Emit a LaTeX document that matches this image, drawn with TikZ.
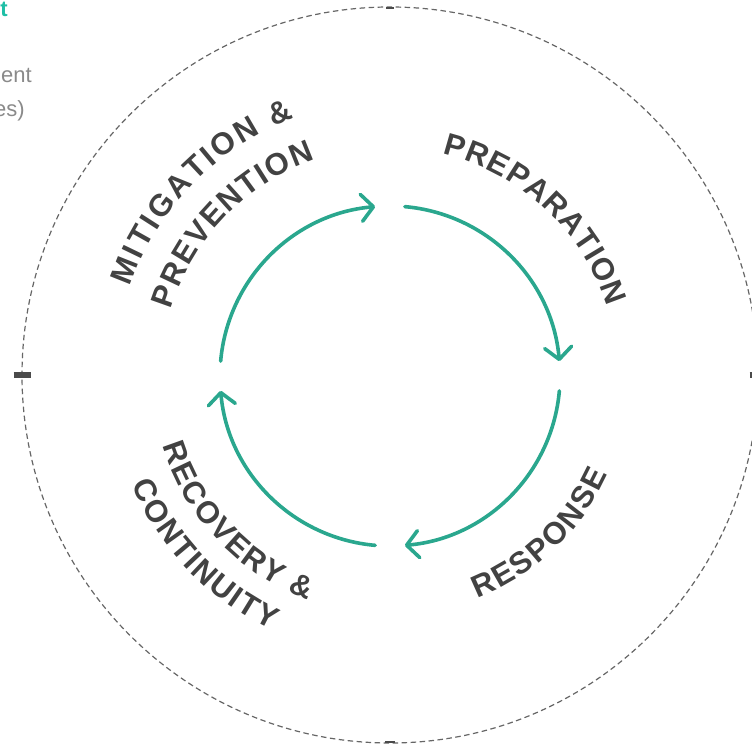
\documentclass[tikz,border=0pt]{standalone}
\usepackage{fontspec}
\setmainfont{Liberation Sans}
\usetikzlibrary{arrows.meta}
\definecolor{cycteal}{HTML}{2AA78E}
\definecolor{titleteal}{HTML}{1FBFA6}
\definecolor{labgray}{HTML}{424242}
\definecolor{dashgray}{HTML}{666666}
\definecolor{tickgray}{HTML}{4A4A4A}
\definecolor{subgray}{HTML}{8A8A8A}
\newcommand\lblsize{31}
\newcommand\lblstyle{\fontsize{31}{33}\selectfont\bfseries}
% advance widths (em) of Liberation Sans Bold
\def\cwA{.722}\def\cwC{.722}\def\cwE{.667}\def\cwG{.778}\def\cwI{.278}
\def\cwM{.833}\def\cwN{.722}\def\cwO{.778}\def\cwP{.667}\def\cwR{.722}
\def\cwS{.667}\def\cwT{.611}\def\cwU{.722}\def\cwV{.667}\def\cwY{.667}
\def\cwamp{.722}\def\cwsp{.278}
% #1 name prefix, #2 baseline radius, #3 mid angle, #4 dir (1 ccw, -1 cw), #5 spacing, #6 list of glyph/key
\newcommand\arctext[6]{%
  \xdef\arcTot{0}%
  \foreach \ch/\ky in {#6}{%
    \pgfmathsetmacro\arcTmp{\arcTot+\csname cw\ky\endcsname*\lblsize+#5}%
    \global\let\arcTot\arcTmp
  }%
  \pgfmathsetmacro\arcTmp{\arcTot-#5}%
  \global\let\arcTot\arcTmp
  \xdef\arcPos{0}%
  \foreach \ch/\ky [count=\ci] in {#6}{%
    \pgfmathsetmacro\arcW{\csname cw\ky\endcsname*\lblsize}%
    \pgfmathsetmacro\arcS{\arcPos+0.5*\arcW}%
    \pgfmathsetmacro\arcA{#3+(#4)*(\arcS-0.5*\arcTot)/#2*57.29578}%
    \pgfmathsetmacro\arcR{\arcA+(#4)*90}%
    \node[lbl, anchor=base, rotate=\arcR] (#1\ci) at ([shift={(\arcA:#2)}]C) {\ch};
    \pgfmathsetmacro\arcTmp{\arcPos+\arcW+#5}%
    \global\let\arcPos\arcTmp
  }%
}
\begin{document}
\begin{tikzpicture}[x=1pt,y=1pt,
  lbl/.style={font=\lblstyle, text=labgray, inner sep=0pt},
  cyc/.style={draw=cycteal, line width=3.6pt, line cap=round,
    -{Straight Barb[length=12pt, width=27pt, round]}},
  ring/.style={draw=dashgray, line width=1.2pt, dash pattern=on 5.5pt off 3.5pt},
  tickbar/.style={draw=tickgray, line width=6pt},
  darkdash/.style={draw=tickgray, line width=1.8pt},
  frag/.style={inner sep=0pt, anchor=base east}]
\useasboundingbox (0,0) rectangle (752,747);
\coordinate (C) at (390,371);
\coordinate (D) at (390,372);
% outer dashed ring
\draw[ring] (D) circle[radius=368];
\coordinate (tL) at ([shift={(180:368)}]D);
\coordinate (tR) at ([shift={(0:368)}]D);
\coordinate (tT) at ([shift={(90:368)}]D);
\coordinate (tB) at ([shift={(-90:368)}]D);
\draw[tickbar] ([xshift=-8.5pt]tL) -- ([xshift=8.5pt]tL);
\draw[tickbar] ([xshift=-8.5pt]tR) -- ([xshift=8.5pt]tR);
\draw[darkdash] ([xshift=-4pt,yshift=-1pt]tT) -- ([xshift=4pt,yshift=-1pt]tT);
\draw[darkdash] ([xshift=-5pt,yshift=1pt]tB) -- ([xshift=5pt,yshift=1pt]tB);
% cycle arrows
\coordinate (a1) at ([shift={(175:170)}]C);
\coordinate (a2) at ([shift={(85:170)}]C);
\coordinate (a3) at ([shift={(-5:170)}]C);
\coordinate (a4) at ([shift={(-95:170)}]C);
\draw[cyc] (a1) arc[start angle=175, end angle=95, radius=170];
\draw[cyc] (a2) arc[start angle=85, end angle=5, radius=170];
\draw[cyc] (a3) arc[start angle=-5, end angle=-85, radius=170];
\draw[cyc] (a4) arc[start angle=-95, end angle=-175, radius=170];
% curved labels
\arctext{mit}{275}{135.7}{-1}{2.7}{M/M,I/I,T/T,I/I,G/G,A/A,T/T,I/I,O/O,N/N,\ /sp,\&/amp}
\arctext{pre}{229}{136}{-1}{1.6}{P/P,R/R,E/E,V/V,E/E,N/N,T/T,I/I,O/O,N/N}
\arctext{prp}{228}{47.2}{-1}{0.9}{P/P,R/R,E/E,P/P,A/A,R/R,A/A,T/T,I/I,O/O,N/N}
\arctext{rsp}{239}{-46.4}{1}{1.8}{R/R,E/E,S/S,P/P,O/O,N/N,S/S,E/E}
\arctext{rec}{238}{223.5}{1}{1.7}{R/R,E/E,C/C,O/O,V/V,E/E,R/R,Y/Y,\ /sp,\&/amp}
\arctext{con}{280}{223.9}{1}{1.9}{C/C,O/O,N/N,T/T,I/I,N/N,U/U,I/I,T/T,Y/Y}
% clipped fragments of side texts
\node[frag, font=\fontsize{22}{24}\selectfont\bfseries, text=titleteal] (ttl) at (8,730) {t};
\node[frag, font=\fontsize{22}{24}\selectfont, text=subgray] (sub1) at (32,664) {ent};
\node[frag, font=\fontsize{22}{24}\selectfont, text=subgray] (sub2) at (25,630) {es)};
\end{tikzpicture}
\end{document}
